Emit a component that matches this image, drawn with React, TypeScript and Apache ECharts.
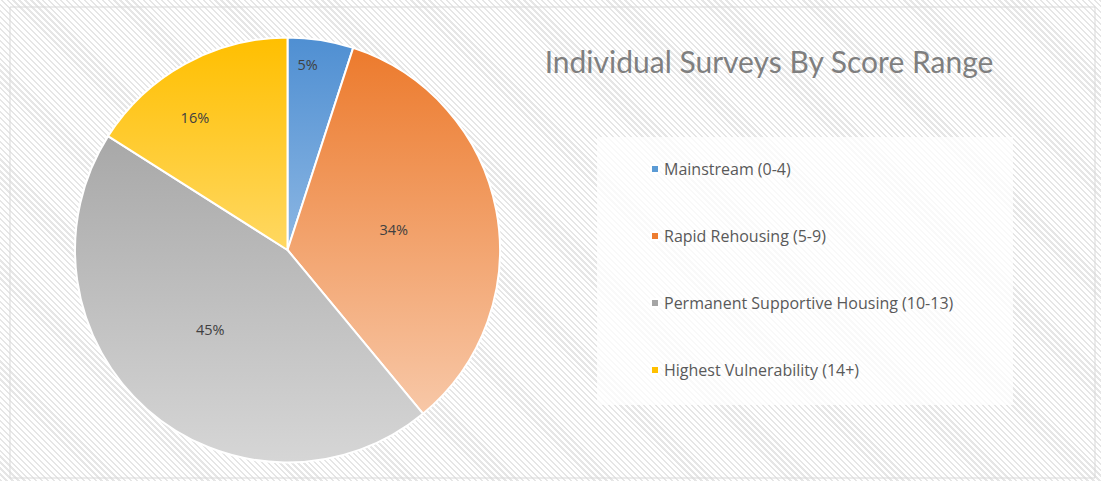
import React, { useEffect, useRef } from "react";
import * as echarts from "echarts";

const categories = [
  "Mainstream (0-4)",
  "Rapid Rehousing (5-9)",
  "Permanent Supportive Housing (10-13)",
  "Highest Vulnerability (14+)",
];
const values = [5, 34, 45, 16];
const titleText = "Individual Surveys By Score Range";

const topColors = ["#4f8fd2", "#ec7829", "#9a9a9a", "#ffbf00"];
const bottomColors = ["#c9def4", "#f9d2b8", "#d6d6d6", "#fff1c4"];
const legendColors = ["#5b9bd5", "#ed7d31", "#a5a5a5", "#ffc000"];
// label nudges (px) from the default inside position
const labelNudges = [
  [3, -78],
  [-1, 0],
  [-5, -2],
  [-40, -37],
];

const CX = 287.5;
const CY = 250;
const R = 212.5;

export default function App() {
  const ref = useRef<HTMLDivElement>(null);
  useEffect(() => {
    if (!ref.current) return;
    const chart = echarts.init(ref.current, null, { renderer: "svg" });
    const grad = (i: number) =>
      new echarts.graphic.LinearGradient(
        0,
        CY - R,
        0,
        CY + R,
        [
          { offset: 0, color: topColors[i] },
          { offset: 1, color: bottomColors[i] },
        ],
        true
      );
    chart.setOption({
      animation: false,
      title: {
        text: titleText,
        left: 764,
        top: 41,
        textAlign: "center",
        textStyle: {
          fontFamily: "Lato",
          fontSize: 30,
          fontWeight: "normal",
          color: "#7f7f7f",
        },
      },
      graphic: [
        {
          type: "rect",
          shape: { x: 10, y: 7, width: 1085, height: 471 },
          style: { fill: "none", stroke: "#d9d9d9", lineWidth: 1 },
          silent: true,
        },
        {
          type: "rect",
          shape: { x: 597, y: 137, width: 416, height: 268 },
          style: { fill: "rgba(255,255,255,0.75)" },
          silent: true,
          z: -1,
        },
      ],
      legend: {
        orient: "vertical",
        left: 645,
        top: 154,
        itemWidth: 8,
        itemHeight: 8,
        itemGap: 47,
        icon: "rect",
        data: categories.map((c, i) => ({
          name: c,
          itemStyle: { color: legendColors[i] },
        })),
        textStyle: {
          fontFamily: "Open Sans",
          fontSize: 16,
          color: "#595959",
          lineHeight: 20,
        },
        selectedMode: false,
      },
      series: [
        {
          type: "pie",
          center: [CX, CY],
          radius: [0, R],
          startAngle: 90,
          clockwise: true,
          data: values.map((v, i) => ({
            name: categories[i],
            value: v,
            itemStyle: { color: grad(i) },
          })),
          itemStyle: { borderColor: "#ffffff", borderWidth: 2 },
          label: {
            show: true,
            position: "inside",
            formatter: (p: any) => Math.round(p.percent) + "%",
            fontFamily: "Open Sans",
            fontSize: 14.5,
            color: "#404040",
          },
          labelLine: { show: false },
          emphasis: { disabled: true },
          labelLayout: (p: any) => {
            const n = labelNudges[p.dataIndex];
            return { dx: n[0], dy: n[1] };
          },
        },
      ],
    });
    return () => chart.dispose();
  }, []);
  return (
    <div
      style={{
        position: "fixed",
        left: 0,
        top: 0,
        width: 1101,
        height: 481,
        background:
          "repeating-linear-gradient(45deg, #e6e6e6 0px, #e6e6e6 1.6px, #ffffff 1.6px, #ffffff 4.2px)",
      }}
    >
      <div ref={ref} style={{ width: 1101, height: 481 }} />
    </div>
  );
}
